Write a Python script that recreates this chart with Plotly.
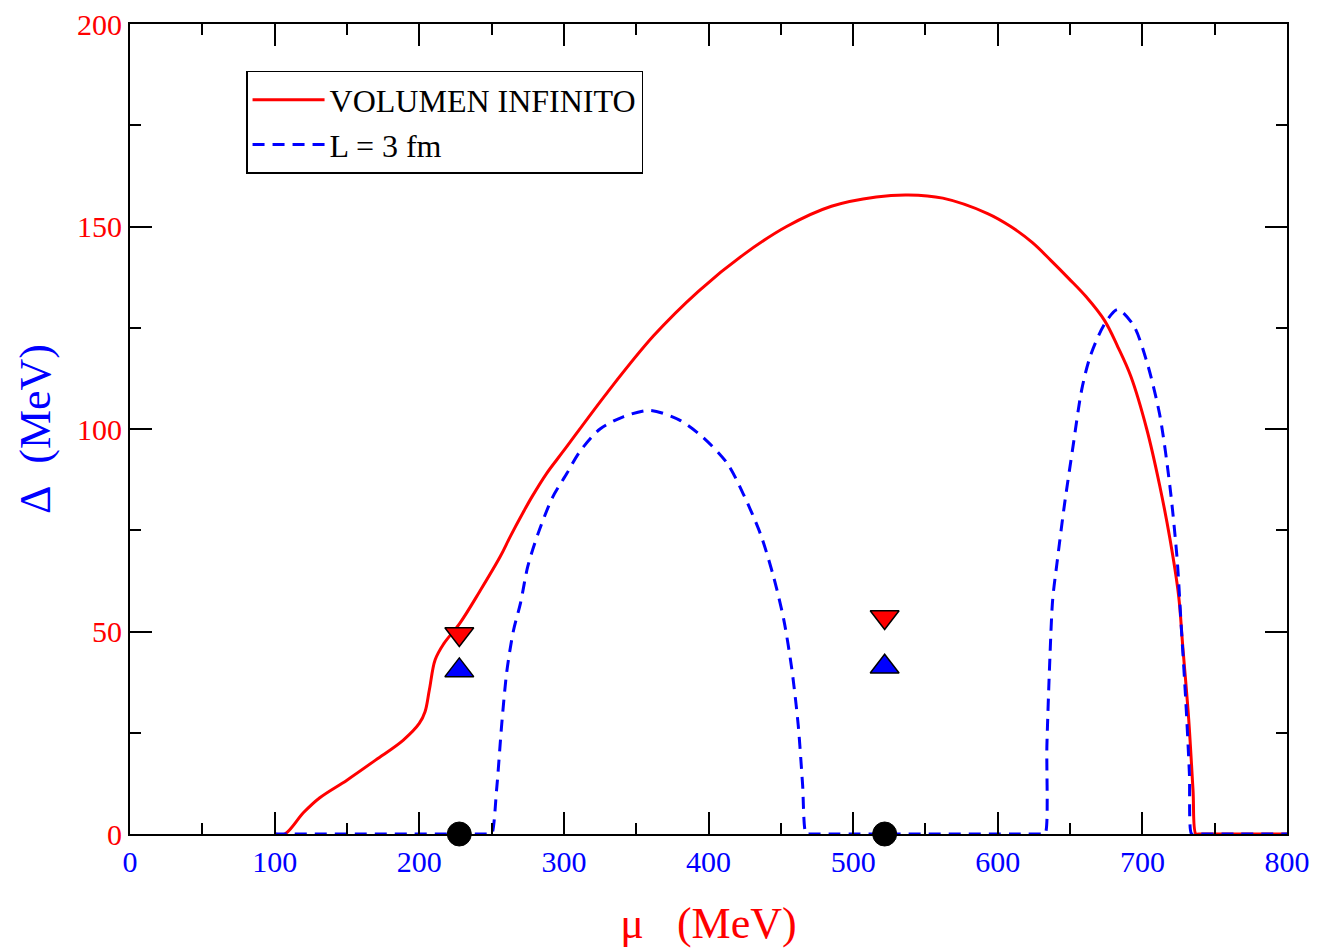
import plotly.graph_objects as go

# Infinite volume gap (red solid)
red_x = [100, 107, 120, 131, 150, 170, 189, 200, 204, 207, 211, 217, 228, 242, 256, 263, 272,
         278, 288, 300, 330, 362, 393, 424, 454, 485, 516, 538, 562, 593, 609, 624, 636.5, 649,
         661, 674, 683, 692, 703, 712, 719, 725, 728, 732, 735, 737, 739, 800]
red_y = [0, 0, 5.3, 8.9, 13.3, 18.3, 23.2, 27.3, 30.2, 35.6, 43, 47, 52, 60, 68.5, 73.5, 79.5,
         83.3, 89, 94.7, 109, 123, 134, 143, 150, 155, 157.3, 157.8, 157.0, 153.2, 150, 146, 141.7, 137.2,
         132.7, 126.7, 120.3, 113, 100, 86, 73, 59, 46, 28.5, 11, 0, 0, 0]

# L = 3 fm gap (blue dashed)
blue_x = [100, 248, 250, 253.5, 257, 260.5, 265, 270, 275, 282, 292, 302, 311, 325, 341, 359.5, 380,
          396, 413, 424, 436, 445, 452, 457.5, 462, 465, 467.5, 469.5, 630.5, 632.7, 634, 636, 638,
          641, 646, 652, 658, 664, 674, 683, 694, 703, 712, 719, 724, 727, 730, 732.5, 734, 736, 800]
blue_y = [0, 0, 0, 11, 27, 40, 50, 57, 66, 74, 83, 89, 94.4, 100, 103, 104.6, 102.2,
          98, 91.5, 84, 74, 63.5, 53, 41, 27, 12.5, 0, 0, 0, 0, 22, 43, 58,
          67, 81, 95.6, 109.6, 118, 126, 129.5, 125.5, 116.7, 103.5, 86, 68, 50.5, 33, 15, 0, 0, 0]

# Point markers
mark_x = [227.7, 521.8]
red_tri_y = [49.4, 53.6]
blue_tri_y = [40.4, 41.3]
circle_y = [0, 0]

x_ticks = [0, 100, 200, 300, 400, 500, 600, 700, 800]
y_ticks = [0, 50, 100, 150, 200]

SERIF = "Liberation Serif"

fig = go.Figure()
fig.add_trace(go.Scatter(x=red_x, y=red_y, mode="lines", name="VOLUMEN INFINITO",
                         line=dict(color="#ff0000", width=3, shape="spline", smoothing=1.0)))
fig.add_trace(go.Scatter(x=blue_x, y=blue_y, mode="lines", name="L = 3 fm",
                         line=dict(color="#0000ff", width=3, dash="12px,8px",
                                   shape="spline", smoothing=0.8)))
fig.add_trace(go.Scatter(x=mark_x, y=red_tri_y, mode="markers", showlegend=False,
                         marker=dict(symbol="triangle-down", size=25, color="#ff0000",
                                     line=dict(color="black", width=1.5))))
fig.add_trace(go.Scatter(x=mark_x, y=blue_tri_y, mode="markers", showlegend=False,
                         marker=dict(symbol="triangle-up", size=25, color="#0000ff",
                                     line=dict(color="black", width=1.5))))
fig.add_trace(go.Scatter(x=mark_x, y=circle_y, mode="markers", showlegend=False, cliponaxis=False,
                         marker=dict(symbol="circle", size=24, color="black",
                                     line=dict(color="black", width=1))))

fig.update_layout(
    width=1318, height=950,
    margin=dict(l=130, r=31, t=24, b=116, autoexpand=False),
    paper_bgcolor="white", plot_bgcolor="white",
    font=dict(family=SERIF, size=30, color="black"),
    legend=dict(x=0.1003, y=0.942, xanchor="left", yanchor="top",
                bgcolor="white", bordercolor="black", borderwidth=1.5,
                font=dict(family=SERIF, size=32, color="black"),
                tracegroupgap=0, itemwidth=72),
    xaxis=dict(range=[0, 800], tickvals=x_ticks, ticktext=[str(v) for v in x_ticks],
               automargin=False,
               ticks="inside", ticklen=22, tickwidth=2, tickcolor="black",
               minor=dict(ticks="inside", ticklen=11, tickwidth=2, tickcolor="black", dtick=50, tick0=0),
               showline=True, linecolor="black", linewidth=2, mirror="ticks",
               showgrid=False, zeroline=False,
               tickfont=dict(family=SERIF, size=30, color="#0000ff"),
               title=dict(text="μ\u00a0\u00a0\u00a0(MeV)", standoff=30,
                          font=dict(family=SERIF, size=44, color="#ff0000"))),
    yaxis=dict(range=[0, 200], tickvals=y_ticks, ticktext=[str(v) for v in y_ticks],
               automargin=False,
               ticks="inside", ticklen=22, tickwidth=2, tickcolor="black",
               minor=dict(ticks="inside", ticklen=11, tickwidth=2, tickcolor="black", dtick=25, tick0=0),
               showline=True, linecolor="black", linewidth=2, mirror="ticks",
               showgrid=False, zeroline=False,
               tickfont=dict(family=SERIF, size=30, color="#ff0000"),
               title=dict(text="Δ\u00a0\u00a0(MeV)", standoff=13,
                          font=dict(family=SERIF, size=44, color="#0000ff"))),
)

fig.write_html("out.html")
